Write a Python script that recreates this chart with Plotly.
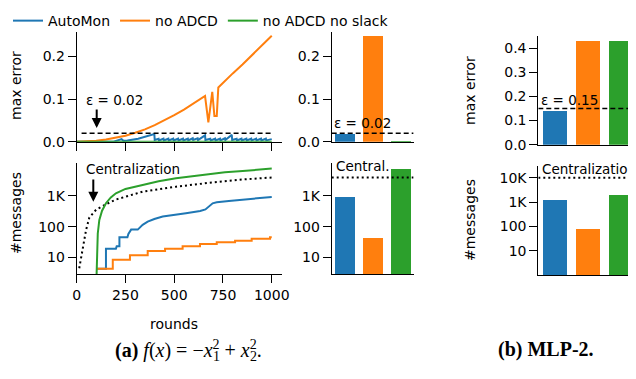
import plotly.graph_objects as go

# ---------------- data ----------------
series_names = ["AutoMon", "no ADCD", "no ADCD no slack"]
colors = ["#1f77b4", "#ff7f0e", "#2ca02c"]

# max error over rounds
blue_err_rounds = [0, 190, 230, 240, 260, 315, 398, 400, 420, 422, 445, 447, 470, 472, 495, 497,
                   520, 522, 545, 547, 570, 572, 595, 597, 620, 622, 658, 660, 685, 687, 710, 712,
                   735, 737, 760, 762, 795, 797, 820, 822, 845, 847, 870, 872, 895, 897, 920, 922,
                   945, 947, 970, 972, 1000]
blue_err = [0, 0, 0.006, 0.002, 0.003, 0.007, 0.018, 0.004, 0.007, 0.003, 0.007, 0.003, 0.007, 0.003,
            0.007, 0.003, 0.007, 0.003, 0.007, 0.003, 0.007, 0.003, 0.008, 0.004, 0.008, 0.004,
            0.015, 0.004, 0.007, 0.003, 0.007, 0.003, 0.007, 0.003, 0.008, 0.004, 0.016, 0.004,
            0.007, 0.003, 0.007, 0.003, 0.007, 0.003, 0.007, 0.003, 0.007, 0.003, 0.007, 0.003,
            0.007, 0.003, 0.006]
orange_err_rounds = [0, 50, 100, 150, 200, 250, 300, 350, 400, 450, 500, 550, 600, 640, 658, 675,
                     695, 706, 718, 726, 750, 800, 850, 900, 950, 1000]
orange_err = [0, 0.0005, 0.002, 0.005, 0.009, 0.014, 0.021, 0.029, 0.039, 0.050, 0.062, 0.075,
              0.090, 0.101, 0.107, 0.045, 0.117, 0.060, 0.060, 0.127, 0.138, 0.160, 0.181,
              0.203, 0.225, 0.248]
green_err_rounds = [0, 250, 500, 750, 1000]
green_err = [0, 0, 0, 0, 0]
eps_a = 0.02
eps_rounds = [25, 1000]

# #messages over rounds
blue_msg_rounds = [100, 150, 150, 201, 205, 219, 219, 260, 265, 279, 313, 322, 338, 364, 398, 441,
                   509, 560, 633, 660, 697, 718, 780, 837, 900, 1000]
blue_msg = [4.2, 4.2, 19, 19, 23, 23, 45, 45, 58, 80, 80, 93, 114, 145, 178, 213, 240, 275, 325,
            365, 575, 620, 690, 740, 820, 930]
orange_msg_rounds = [100, 185, 273, 364, 453, 543, 632, 718, 812, 897, 991, 1000]
orange_msg = [4.2, 8.3, 11.7, 16, 19, 23, 27, 31, 35, 40, 45, 45]
green_msg_rounds = [100, 103, 108, 116, 130, 150, 175, 201, 250, 338, 420, 509, 600, 680, 760, 851, 1000]
green_msg = [1, 10, 60, 166, 330, 580, 900, 1220, 1700, 2280, 3000, 3780, 4500, 5200, 5900, 6500, 7800]
central_rounds = [13, 22, 31, 39, 48, 65, 100, 146, 200, 338, 509, 680, 851, 1000]
central_msg = [4.4, 9.4, 20, 42, 78, 200, 360, 520, 760, 1380, 2000, 2700, 3450, 4000]

# bar summaries
bar_pos = [0, 1, 2]
a_max_err = [0.018, 0.248, 0.0006]
a_msgs = [950, 44, 7600]
a_central = 4000
b_max_err = [0.141, 0.43, 0.43]
b_msgs = [1240, 80, 2000]
b_eps = 0.15
b_central = 10000

round_ticks = [0, 250, 500, 750, 1000]
err_ticks_a = [0, 0.1, 0.2]
err_ticks_b = [0, 0.1, 0.2, 0.3, 0.4]
msg_ticks_a = [10, 100, 1000]
msg_text_a = ["10", "100", "1K"]
msg_ticks_b = [10, 100, 1000, 10000]
msg_text_b = ["10", "100", "1K", "10K"]

# ---------------- layout helpers ----------------
# the page body has an 8px margin, so the figure is 628x371 placed at (8, 8)
OFF = 8
W, H = 636 - OFF, 379 - OFF
def px(x):
    return (x - OFF) / W
def py(y):
    return 1 - (y - OFF) / H

FONT = "DejaVu Sans"
fig = go.Figure()

# left-top: max error lines
err_sets = [(blue_err_rounds, blue_err), (orange_err_rounds, orange_err), (green_err_rounds, green_err)]
for (rx, vy), name, c in zip(err_sets, series_names, colors):
    fig.add_trace(go.Scatter(x=rx, y=vy, mode="lines", name=name, line=dict(color=c, width=2),
                             xaxis="x", yaxis="y", showlegend=True))
fig.add_trace(go.Scatter(x=eps_rounds, y=[eps_a, eps_a], mode="lines", showlegend=False,
                         line=dict(color="black", width=1.5, dash="5px,3px"), xaxis="x", yaxis="y"))

# left-bottom: messages
fig.add_trace(go.Scatter(x=central_rounds, y=central_msg, mode="lines", showlegend=False,
                         line=dict(color="black", width=2, dash="2px,3px"), xaxis="x2", yaxis="y2"))
fig.add_trace(go.Scatter(x=blue_msg_rounds, y=blue_msg, mode="lines", showlegend=False,
                         line=dict(color=colors[0], width=2), xaxis="x2", yaxis="y2"))
fig.add_trace(go.Scatter(x=orange_msg_rounds, y=orange_msg, mode="lines", showlegend=False,
                         line=dict(color=colors[1], width=2, shape="hv"), xaxis="x2", yaxis="y2"))
fig.add_trace(go.Scatter(x=green_msg_rounds, y=green_msg, mode="lines", showlegend=False,
                         line=dict(color=colors[2], width=2), xaxis="x2", yaxis="y2"))

# middle bars
fig.add_trace(go.Bar(x=bar_pos, y=a_max_err, marker=dict(color=colors, line=dict(width=0)), width=0.72,
                     showlegend=False, xaxis="x3", yaxis="y3"))
fig.add_trace(go.Scatter(x=[-0.48, 2.48], y=[eps_a, eps_a], mode="lines", showlegend=False,
                         line=dict(color="black", width=1.5, dash="5px,3px"), xaxis="x3", yaxis="y3"))
fig.add_trace(go.Bar(x=bar_pos, y=a_msgs, marker=dict(color=colors, line=dict(width=0)), width=0.72,
                     showlegend=False, xaxis="x4", yaxis="y4"))
fig.add_trace(go.Scatter(x=[-0.48, 2.48], y=[a_central, a_central], mode="lines", showlegend=False,
                         line=dict(color="black", width=2, dash="2px,3px"), xaxis="x4", yaxis="y4"))

# right bars
fig.add_trace(go.Bar(x=bar_pos, y=b_max_err, marker=dict(color=colors, line=dict(width=0)), width=0.72,
                     showlegend=False, xaxis="x5", yaxis="y5"))
fig.add_trace(go.Scatter(x=[-0.5, 2.5], y=[b_eps, b_eps], mode="lines", showlegend=False,
                         line=dict(color="black", width=1.5, dash="5px,3px"), xaxis="x5", yaxis="y5"))
fig.add_trace(go.Bar(x=bar_pos, y=b_msgs, marker=dict(color=colors, line=dict(width=0)), width=0.72,
                     showlegend=False, xaxis="x6", yaxis="y6"))
fig.add_trace(go.Scatter(x=[-0.5, 2.5], y=[b_central, b_central], mode="lines", showlegend=False,
                         line=dict(color="black", width=2, dash="2px,3px"), xaxis="x6", yaxis="y6"))

axis_common = dict(showline=True, linecolor="black", linewidth=1, showgrid=False, zeroline=False,
                   ticks="outside", ticklen=8, tickwidth=1, tickcolor="black", automargin=False,
                   tickfont=dict(family=FONT, size=14, color="black"))
bar_x = dict(showline=True, linecolor="black", linewidth=1, showgrid=False, zeroline=False,
             ticks="", showticklabels=False, automargin=False)

dom_a_x = [px(76.7), px(281.7)]
dom_top_a = [py(141.7), py(31.7)]
dom_bot_a = [py(274), py(163)]
dom_mid_x = [px(331.7), px(413.6)]
dom_b_x = [px(538.3), 1.0]
dom_top_b = [py(144.7), py(35.7)]
dom_bot_b = [py(275.3), py(165.7)]

fig.update_layout(
    width=W, height=H, margin=dict(l=0, r=0, t=0, b=0, autoexpand=False),
    paper_bgcolor="white", plot_bgcolor="white",
    font=dict(family=FONT, size=14, color="black"),
    bargap=0,
    legend=dict(orientation="h", x=0.0, y=1.008, xanchor="left", yanchor="top",
                font=dict(family=FONT, size=14, color="black"), bgcolor="rgba(0,0,0,0)",
                itemwidth=30, tracegroupgap=0),
    xaxis=dict(domain=dom_a_x, range=[0, 1051], anchor="y", tickvals=round_ticks,
               showticklabels=False, **axis_common),
    yaxis=dict(domain=dom_top_a, range=[0, 0.2577], anchor="x", tickvals=err_ticks_a,
               ticktext=["0.0", "0.1", "0.2"], **axis_common),
    xaxis2=dict(domain=dom_a_x, range=[0, 1051], anchor="y2", tickvals=round_ticks, **axis_common),
    yaxis2=dict(domain=dom_bot_a, type="log", range=[0.456, 4.075], anchor="x2",
                tickvals=msg_ticks_a, ticktext=msg_text_a, **axis_common),
    xaxis3=dict(domain=dom_mid_x, range=[-0.48, 2.48], anchor="y3", **bar_x),
    yaxis3=dict(domain=dom_top_a, range=[0, 0.2577], anchor="x3", tickvals=err_ticks_a,
                ticktext=["0.0", "0.1", "0.2"], **axis_common),
    xaxis4=dict(domain=dom_mid_x, range=[-0.48, 2.48], anchor="y4", **bar_x),
    yaxis4=dict(domain=dom_bot_a, type="log", range=[0.456, 4.075], anchor="x4",
                tickvals=msg_ticks_a, ticktext=msg_text_a, **axis_common),
    xaxis5=dict(domain=dom_b_x, range=[-0.5, 2.43], anchor="y5", **bar_x),
    yaxis5=dict(domain=dom_top_b, range=[0, 0.452], anchor="x5", tickvals=err_ticks_b,
                ticktext=["0.0", "0.1", "0.2", "0.3", "0.4"], **axis_common),
    xaxis6=dict(domain=dom_b_x, range=[-0.5, 2.43], anchor="y6", **bar_x),
    yaxis6=dict(domain=dom_bot_b, type="log", range=[-0.011, 4.493], anchor="x6",
                tickvals=msg_ticks_b, ticktext=msg_text_b, **axis_common),
)

ann = []
def text(x, y, s, size=14, angle=0, xanchor="center", family=FONT):
    ann.append(dict(x=px(x), y=py(y), xref="paper", yref="paper", text=s, showarrow=False,
                    textangle=angle, xanchor=xanchor, yanchor="middle",
                    font=dict(family=family, size=size, color="black")))

text(16, 86, "max error", angle=-90)
text(16, 213, "#messages", angle=-90)
text(470, 90, "max error", angle=-90)
text(470, 220, "#messages", angle=-90)
text(174, 324, "rounds")
text(84, 100, "ε = 0.02", size=13.5, xanchor="left")
text(84, 169, "Centralization", size=13.5, xanchor="left")
text(332, 123.3, "ε = 0.02", size=13.5, xanchor="left")
text(334, 165.7, "Central.", size=13.5, xanchor="left")
text(539, 100, "ε = 0.15", size=13.5, xanchor="left")
text(540, 169, "Centralization", size=13.5, xanchor="left")

# arrows
for (x, y0, y1) in [(96.7, 108, 128), (93.3, 178, 201.7)]:
    ann.append(dict(x=px(x), y=py(y1), xref="paper", yref="paper", ax=0, ay=-(y1 - y0),
                    axref="pixel", ayref="pixel", text="", showarrow=True, arrowhead=2,
                    arrowsize=1, arrowwidth=2, arrowcolor="black"))

SERIF = "Liberation Serif"
cap_left = 113
text(cap_left, 349, "<b>(a)</b> <i>f</i>(<i>x</i>) = −<i>x</i><sup>2</sup> + <i>x</i><sup>2</sup>.",
     size=20, family=SERIF, xanchor="left")
text(cap_left + 97.5, 356, "1", size=14, family=SERIF, xanchor="left")
text(cap_left + 134.7, 356, "2", size=14, family=SERIF, xanchor="left")
text(546, 349, "<b>(b) MLP-2.</b>", size=20, family=SERIF)

fig.update_layout(annotations=ann)
fig.write_html("out.html")
